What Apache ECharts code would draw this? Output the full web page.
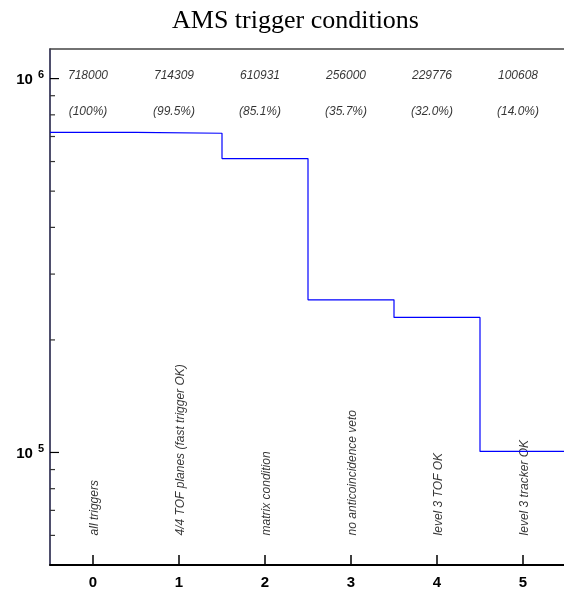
<!DOCTYPE html>
<html>
<head>
<meta charset="utf-8">
<script src="https://cdn.jsdelivr.net/npm/echarts@6/dist/echarts.min.js"></script>
<style>html,body{margin:0;padding:0;background:#fff}#c{width:564px;height:590px}</style>
</head>
<body>
<div id="c"></div>
<script>
// ---- data ----
const categories = ['0', '1', '2', '3', '4', '5'];
const conditions = ['all triggers', '4/4 TOF planes (fast trigger OK)', 'matrix condition',
  'no anticoincidence veto', 'level 3 TOF OK', 'level 3 tracker OK'];
const counts = [718000, 714309, 610931, 256000, 229776, 100608];
const percents = ['(100%)', '(99.5%)', '(85.1%)', '(35.7%)', '(32.0%)', '(14.0%)'];
const majorTicks = [1e5, 1e6];
const minorTicks = [6e4, 7e4, 8e4, 9e4, 2e5, 3e5, 4e5, 5e5, 6e5, 7e5, 8e5, 9e5];

// ---- derived series data ----
const stepData = [];
counts.forEach((v, i) => { stepData.push([i - 0.5, v]); stepData.push([i + 0.5, v]); });
const tickData = majorTicks.map(v => [v, 1]).concat(minorTicks.map(v => [v, 0]));

const font = 'Liberation Sans, Arial, sans-serif';
const chart = echarts.init(document.getElementById('c'), null, {renderer: 'canvas'});
chart.setOption({
  animation: false,
  backgroundColor: '#fff',
  title: {
    text: 'AMS trigger conditions', left: 167, top: 3,
    textStyle: {fontFamily: 'Liberation Serif, Times New Roman, serif', fontSize: 26, fontWeight: 'normal', color: '#000'}
  },
  grid: {left: 50, top: 49, width: 516, height: 516, containLabel: false, outerBoundsMode: 'none'},
  xAxis: [{
    type: 'category', data: categories, position: 'bottom', boundaryGap: true,
    axisLine: {show: true, onZero: false, lineStyle: {color: '#000', width: 2}},
    axisTick: {show: true, inside: true, length: 10, alignWithLabel: true, lineStyle: {color: '#000', width: 1.5}},
    axisLabel: {margin: 10, fontFamily: font, fontSize: 15, fontWeight: 'bold', color: '#000'},
    splitLine: {show: false}
  }, {
    type: 'value', min: -0.5, max: 5.5, position: 'top',
    axisLine: {show: true, onZero: false, lineStyle: {color: '#444', width: 1.5}},
    axisTick: {show: false}, axisLabel: {show: false}, splitLine: {show: false}
  }],
  yAxis: [{
    type: 'log', logBase: 10, min: 5e4, max: 1.2e6, position: 'left',
    axisLine: {show: true, onZero: false, lineStyle: {color: '#14143c', width: 1.5}},
    axisTick: {show: false},
    splitLine: {show: false},
    minorTick: {show: false}, minorSplitLine: {show: false},
    axisLabel: {
      margin: 6, color: '#000',
      formatter: function (v) {
        const l = Math.log10(v), e = Math.round(l);
        if (Math.abs(l - e) > 1e-6) return '';
        return '{b|10}{s|' + e + '}';
      },
      rich: {
        b: {fontFamily: font, fontSize: 15, fontWeight: 'bold', color: '#000', verticalAlign: 'bottom', lineHeight: 18},
        s: {fontFamily: font, fontSize: 11, fontWeight: 'bold', color: '#000', verticalAlign: 'top', lineHeight: 18, padding: [0, 0, 10, 5]}
      }
    }
  }],
  series: [{
    type: 'line', xAxisIndex: 1, yAxisIndex: 0, data: stepData,
    showSymbol: false, symbol: 'none', lineStyle: {color: '#0000ff', width: 1.2}, z: 3
  }, {
    type: 'custom', xAxisIndex: 1, yAxisIndex: 0, data: tickData, silent: true, clip: false,
    renderItem: function (params, api) {
      const p = api.coord([-0.5, api.value(0)]);
      const len = api.value(1) ? 9 : 5;
      return {type: 'line', shape: {x1: p[0], y1: p[1], x2: p[0] + len, y2: p[1]},
        style: {stroke: api.value(1) ? '#000' : '#333', lineWidth: 1.2}};
    },
    encode: {x: -1, y: 0}
  }, {
    type: 'scatter', xAxisIndex: 0, yAxisIndex: 0, symbolSize: 0, silent: true,
    data: counts.map((v, i) => [i, 1e6]),
    label: {show: true, position: 'inside', offset: [-5, -3], formatter: p => String(counts[p.dataIndex]),
      fontFamily: font, fontSize: 12, fontStyle: 'italic', color: '#000'}
  }, {
    type: 'scatter', xAxisIndex: 0, yAxisIndex: 0, symbolSize: 0, silent: true,
    data: percents.map((v, i) => [i, 8e5]),
    label: {show: true, position: 'inside', offset: [-5, -3], formatter: p => percents[p.dataIndex],
      fontFamily: font, fontSize: 12, fontStyle: 'italic', color: '#000'}
  }, {
    type: 'scatter', xAxisIndex: 0, yAxisIndex: 0, symbolSize: 0, silent: true,
    data: conditions.map((v, i) => [i, 6e4]),
    label: {show: true, position: 'inside', rotate: 90, align: 'left', verticalAlign: 'middle', offset: [0, 2],
      formatter: p => conditions[p.dataIndex],
      fontFamily: font, fontSize: 12, fontStyle: 'italic', color: '#000'}
  }]
});
</script>
</body>
</html>
